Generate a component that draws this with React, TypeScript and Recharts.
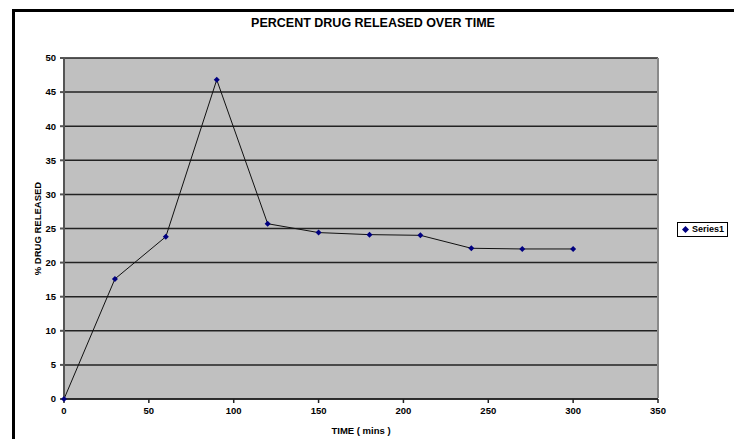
import { CartesianGrid, Legend, Line, LineChart, XAxis, YAxis } from "recharts";

// time in minutes and % drug released
const minutes = [0, 30, 60, 90, 120, 150, 180, 210, 240, 270, 300];
const released = [0, 17.6, 23.8, 46.8, 25.7, 24.4, 24.1, 24.0, 22.1, 22.0, 22.0];
const xTicks = [0, 50, 100, 150, 200, 250, 300, 350];
const yTicks = [0, 5, 10, 15, 20, 25, 30, 35, 40, 45, 50];

const data = minutes.map((m, i) => ({ time: m, Series1: released[i] }));

const FONT = "'Liberation Sans', Arial, sans-serif";
const NAVY = "#000080";

const Diamond = (props: any) => {
  const { cx, cy } = props;
  if (cx == null || cy == null) return null;
  const r = 3;
  return (
    <polygon
      points={`${cx},${cy - r} ${cx + r},${cy} ${cx},${cy + r} ${cx - r},${cy}`}
      fill={NAVY}
    />
  );
};

const LegendBox = () => (
  <div
    style={{
      border: "1px solid #000",
      background: "#fff",
      padding: "1px 3px 1px 4px",
      fontFamily: FONT,
      fontSize: 9,
      fontWeight: "bold",
      display: "flex",
      alignItems: "center",
      whiteSpace: "nowrap",
      lineHeight: "11px",
    }}
  >
    <svg width={7} height={7} style={{ marginRight: 3 }}>
      <polygon points="3.5,0 7,3.5 3.5,7 0,3.5" fill={NAVY} />
    </svg>
    Series1
  </div>
);

const YTitle = (props: any) => {
  const { viewBox } = props;
  const cx = 37;
  const cy = viewBox.y + viewBox.height / 2;
  return (
    <text
      x={cx}
      y={cy}
      transform={`rotate(-90 ${cx} ${cy})`}
      textAnchor="middle"
      dominantBaseline="central"
      fontFamily={FONT}
      fontSize={9.5}
      fontWeight="bold"
      fill="#000"
    >
      % DRUG RELEASED
    </text>
  );
};

const XTitle = (props: any) => {
  const { viewBox } = props;
  return (
    <text
      x={viewBox.x + viewBox.width / 2}
      y={430}
      textAnchor="middle"
      dominantBaseline="central"
      fontFamily={FONT}
      fontSize={9.5}
      fontWeight="bold"
      fill="#000"
    >
      TIME ( mins )
    </text>
  );
};

const tickStyle = { fontFamily: FONT, fontSize: 9.5, fontWeight: "bold", fill: "#000" };

export default function App() {
  return (
    <div
      style={{
        position: "absolute",
        left: 0,
        top: 0,
        width: 734,
        height: 439,
        overflow: "hidden",
        background: "#fff",
      }}
    >
      <div
        style={{
          position: "absolute",
          left: 12,
          top: 9,
          width: 800,
          height: 500,
          border: "3px solid #000",
        }}
      />
      <div
        style={{
          position: "absolute",
          left: 0,
          top: 16,
          width: 746,
          textAlign: "center",
          fontFamily: FONT,
          fontSize: 12.5,
          fontWeight: "bold",
        }}
      >
        PERCENT DRUG RELEASED OVER TIME
      </div>
      <LineChart
        width={734}
        height={439}
        data={data}
        margin={{ top: 58, right: 76, left: 24, bottom: 10 }}
      >
        <CartesianGrid
          vertical={false}
          horizontalValues={yTicks}
          fill="#c0c0c0"
          fillOpacity={1}
          stroke="#222"
          strokeWidth={1.5}
        />
        <XAxis
          dataKey="time"
          type="number"
          domain={[0, 350]}
          ticks={xTicks}
          interval={0}
          height={30}
          tickSize={4}
          tickMargin={4}
          tick={tickStyle}
          stroke="#222"
          strokeWidth={1.5}
          label={<XTitle />}
        />
        <YAxis
          type="number"
          domain={[0, 50]}
          ticks={yTicks}
          interval={0}
          width={40}
          tickSize={4}
          tickMargin={4}
          tick={tickStyle}
          stroke="#555"
          strokeWidth={2}
          label={<YTitle />}
        />
        <Legend
          layout="horizontal"
          align="center"
          verticalAlign="middle"
          content={<LegendBox />}
          wrapperStyle={{ position: "absolute", left: 677, top: 222, width: "auto", bottom: "auto" }}
        />
        <Line
          type="linear"
          dataKey="Series1"
          stroke="#111"
          strokeWidth={1}
          dot={<Diamond />}
          activeDot={false}
          isAnimationActive={false}
        />
      </LineChart>
      <div
        style={{
          position: "absolute",
          left: 657,
          top: 58,
          width: 2,
          height: 340,
          background: "#8a8a8a",
        }}
      />
    </div>
  );
}
